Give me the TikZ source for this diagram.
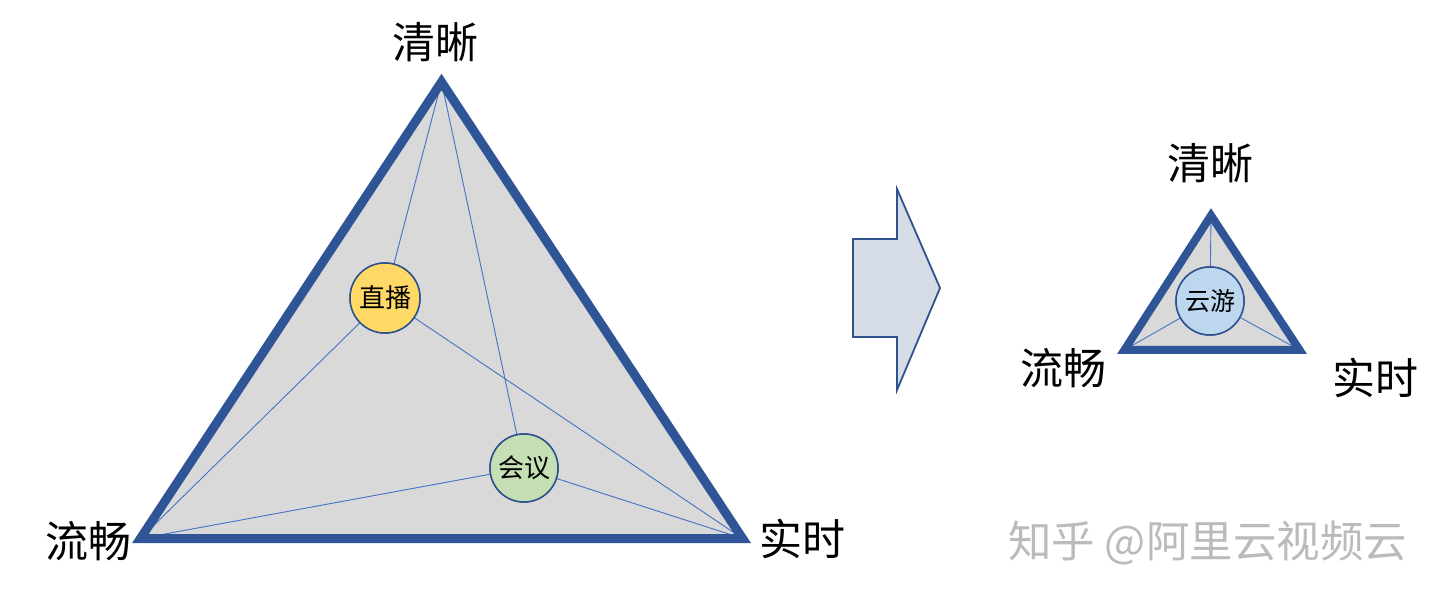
\documentclass[tikz,border=0pt]{standalone}
\usepackage{fontspec}
\newfontfamily\cjk{Noto Sans CJK SC}
\definecolor{bord}{HTML}{2F5597}
\definecolor{thin}{HTML}{4472C4}
\definecolor{tri}{HTML}{D9D9D9}
\definecolor{ring}{HTML}{2F528F}
\definecolor{yel}{HTML}{FFD966}
\definecolor{grn}{HTML}{C5E0B4}
\definecolor{blu}{HTML}{BDD7EE}
\definecolor{arr}{HTML}{D6DCE5}
\definecolor{wm}{HTML}{BBBBBB}
\begin{document}
\begin{tikzpicture}[x=1pt,y=-1pt,
  lbl/.style={font=\cjk\fontsize{43}{43}\selectfont, inner sep=0pt},
  ctxt/.style={circle, draw=ring, line width=1.5pt, minimum size=#1, inner sep=0pt, font=\cjk\fontsize{26}{26}\selectfont},
  tline/.style={draw=thin, line width=0.9pt},
  tborder/.style={draw=bord, line width=#1, line join=miter}]
\useasboundingbox (0,0) rectangle (1440,601);
% big triangle
\coordinate (T) at (441.5,82);
\coordinate (L) at (140.4,538.5);
\coordinate (R) at (742.6,538.5);
\fill[tri] (T) -- (L) -- (R) -- cycle;
\node[ctxt=70pt, fill=yel] (zb) at (385,298) {直播};
\node[ctxt=68pt, fill=grn] (hy) at (524,468) {会议};
\draw[tline] (T) -- (zb.center) (L) -- (zb.center) (zb.center) -- (R);
\draw[tline] (T) -- (hy.center) (L) -- (hy.center) (hy.center) -- (R);
\draw[tborder=9pt] (T) -- (L) -- (R) -- cycle;
\node[ctxt=70pt, fill=yel] at (zb) {直播};
\node[ctxt=68pt, fill=grn] at (hy) {会议};
\node[lbl] (q1) at (435,42) {清晰};
\node[lbl] (l1) at (88,541) {流畅};
\node[lbl] (s1) at (802,539) {实时};
% arrow
\draw[draw=ring, line width=1.8pt, fill=arr, line join=miter]
  (853,239) -- (897,239) -- (897,189) -- (940,288) -- (897,390) -- (897,337) -- (853,337) -- cycle;
% small triangle
\coordinate (t) at (1211,215.5);
\coordinate (l) at (1124.4,350);
\coordinate (r) at (1299.6,350);
\fill[tri] (t) -- (l) -- (r) -- cycle;
\node[ctxt=68pt, fill=blu] (yy) at (1210,301) {};
\draw[tline] (t) -- (yy.center) (l) -- (yy.center) (yy.center) -- (r);
\draw[tborder=8pt] (t) -- (l) -- (r) -- cycle;
\node[ctxt=68pt, fill=blu, font=\cjk\fontsize{25}{25}\selectfont] at (yy) {云游};
\node[lbl] (q2) at (1210,163) {清晰};
\node[lbl] (l2) at (1063,368) {流畅};
\node[lbl] (s2) at (1375,378) {实时};
% watermark
\node[font=\cjk\fontsize{43.5}{43.5}\selectfont, text=wm, anchor=west, inner sep=0pt] (w) at (1008,543) {知乎 @阿里云视频云};
\end{tikzpicture}
\end{document}
